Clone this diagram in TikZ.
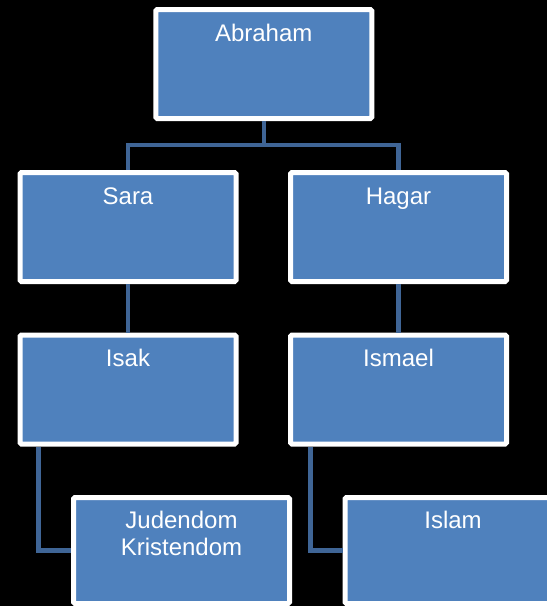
\documentclass[tikz,border=0pt]{standalone}
\usepackage{fontspec}
\setmainfont{Liberation Sans}
\definecolor{boxblue}{RGB}{79,129,189}
\definecolor{linkblue}{RGB}{63,101,150}
\begin{document}
\begin{tikzpicture}[x=1pt,y=-1pt,
  famBox/.style={draw=white, fill=boxblue, line width=5pt, rounded corners=1.5pt,
    minimum width=216pt, minimum height=109pt, inner sep=0pt},
  lowBox/.style={famBox, minimum height=106pt},
  lbl/.style={text=white, font=\fontsize{24}{27}\selectfont, inner sep=0pt, anchor=base, align=center},
  link/.style={draw=linkblue, line width=4.5pt}]
\fill[black] (0,0) rectangle (547,606);
\useasboundingbox (0,0) rectangle (547,606);
\coordinate (bar) at (0,145);
\coordinate (c1) at (38.4,0);
\coordinate (c2) at (310.5,0);
\path (263.75,64) coordinate (pA) (128,227) coordinate (pS) (398.5,227) coordinate (pH)
      (128,389.5) coordinate (pI) (398.5,389.5) coordinate (pM)
      (181.5,550.5) coordinate (pJ) (453,550.5) coordinate (pL);
\node[famBox] (abr) at (pA) {};
\node[famBox] (sara) at (pS) {};
\node[famBox] (hagar) at (pH) {};
\node[famBox] (isak) at (pI) {};
\node[famBox] (ismael) at (pM) {};
\node[lowBox] (jud) at (pJ) {};
\node[lowBox] (islam) at (pL) {};
\draw[link] (abr.south) -- (abr.south |- bar) -| (sara.north);
\draw[link] (abr.south |- bar) -| (hagar.north);
\draw[link] (sara.south) -- (isak.north);
\draw[link] (hagar.south) -- (ismael.north);
\draw[link] (isak.south -| c1) |- (jud.west);
\draw[link] (ismael.south -| c2) |- (islam.west);
\node[lbl] (tA) at ([yshift=-34pt]abr.north) {Abraham};
\node[lbl] (tS) at ([yshift=-34pt]sara.north) {Sara};
\node[lbl] (tH) at ([yshift=-34pt]hagar.north) {Hagar};
\node[lbl] (tI) at ([yshift=-34pt]isak.north) {Isak};
\node[lbl] (tM) at ([yshift=-34pt]ismael.north) {Ismael};
\node[lbl] (tJ) at ([yshift=-60pt]jud.north) {Judendom\\Kristendom};
\node[lbl] (tL) at ([yshift=-33pt]islam.north) {Islam};
\end{tikzpicture}
\end{document}
